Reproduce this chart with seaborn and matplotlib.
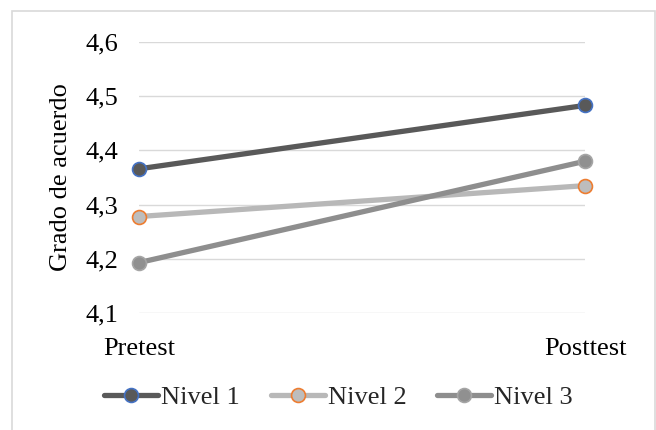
import matplotlib
matplotlib.use("Agg")
import matplotlib.pyplot as plt
import seaborn as sns
import pandas as pd
from matplotlib.patches import Rectangle

# Data
momentos = ["Pretest", "Posttest"]
series = ["Nivel 1", "Nivel 2", "Nivel 3"]
nivel_1 = [4.366, 4.483]
nivel_2 = [4.278, 4.335]
nivel_3 = [4.193, 4.380]
y_ticks = [4.1, 4.2, 4.3, 4.4, 4.5, 4.6]
y_tick_labels = ["4,1", "4,2", "4,3", "4,4", "4,5", "4,6"]

df = pd.DataFrame({
    "Momento": momentos * 3,
    "Serie": [s for s in series for _ in momentos],
    "Grado": nivel_1 + nivel_2 + nivel_3,
})

line_colors = {"Nivel 1": "#595959", "Nivel 2": "#B8B8B8", "Nivel 3": "#8E8E8E"}
face_colors = {"Nivel 1": "#595959", "Nivel 2": "#BDBDBD", "Nivel 3": "#909090"}
edge_colors = {"Nivel 1": "#4472C4", "Nivel 2": "#ED7D31", "Nivel 3": "#A5A5A5"}

sns.set_theme(style="white")
plt.rcParams["font.family"] = ["Liberation Serif", "DejaVu Serif"]
plt.rcParams["font.size"] = 19

fig = plt.figure(figsize=(6.56, 4.30), dpi=100)
ax = fig.add_axes([139 / 656, 1 - 313 / 430, 446 / 656, 271 / 430])

for s in series:
    sub = df[df["Serie"] == s]
    sns.lineplot(
        data=sub, x="Momento", y="Grado", ax=ax, sort=False,
        color=line_colors[s], linewidth=3.8, marker="o", markersize=10,
        markerfacecolor=face_colors[s], markeredgecolor=edge_colors[s],
        markeredgewidth=1.2, clip_on=False, label=s, zorder=3,
    )

ax.set_xlim(0, 1)
ax.set_ylim(4.1, 4.6)
ax.set_yticks(y_ticks)
ax.set_yticklabels(y_tick_labels)
ax.grid(axis="y", color="#D9D9D9", linewidth=1.0)
ax.grid(axis="x", visible=False)
for sp in ax.spines.values():
    sp.set_visible(False)
ax.tick_params(axis="y", length=0, pad=15, labelsize=19, colors="black")
ax.tick_params(axis="x", length=0, pad=18, labelsize=19, colors="black")
ax.set_xlabel("")
ax.set_ylabel("Grado de acuerdo", fontsize=19, color="black")
ax.yaxis.set_label_coords(-0.150, 0.5)

handles, labels = ax.get_legend_handles_labels()
ax.legend(handles, labels, loc="center", bbox_to_anchor=(0.516, 0.076),
          bbox_transform=fig.transFigure, ncol=3, frameon=False,
          fontsize=19, handlelength=2.05, handletextpad=0.12,
          columnspacing=1.15, borderaxespad=0)

# Chart-area frame
fig.patches.append(Rectangle((12 / 656, -0.02), 643 / 656, 0.02 + 1 - 11 / 430,
                             transform=fig.transFigure, fill=False,
                             edgecolor="#D9D9D9", linewidth=1.2, zorder=0))

fig.savefig("out.png", dpi=100)
